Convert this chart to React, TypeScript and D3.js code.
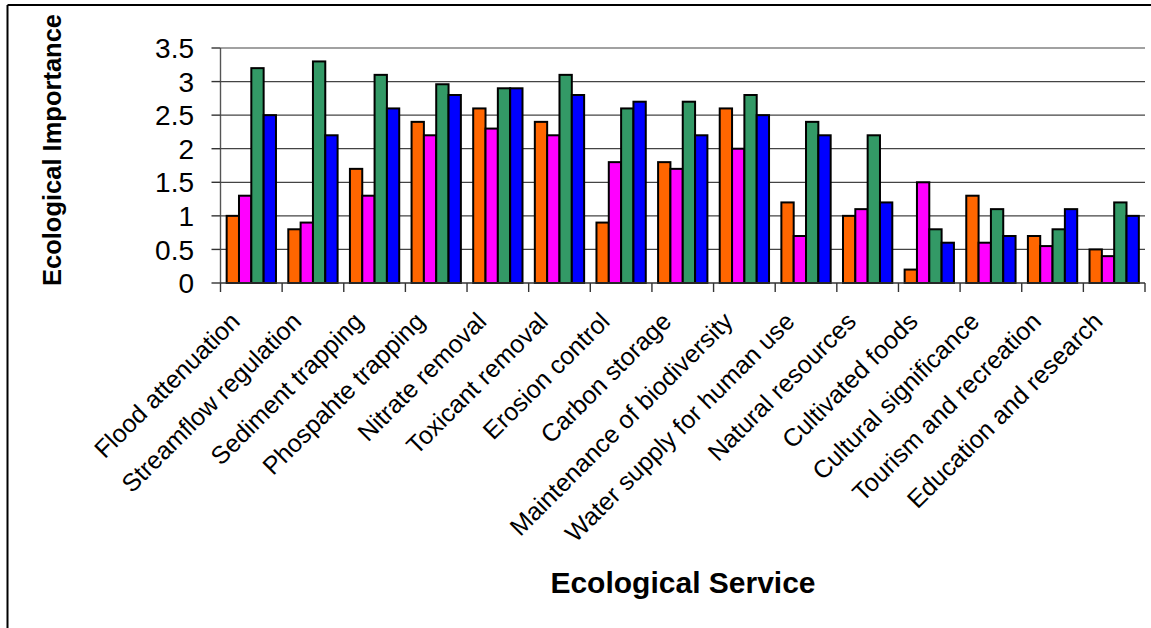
import React from "react";
import * as d3 from "d3";

const categories = [
  "Flood attenuation",
  "Streamflow regulation",
  "Sediment trapping",
  "Phospahte trapping",
  "Nitrate removal",
  "Toxicant removal",
  "Erosion control",
  "Carbon storage",
  "Maintenance of biodiversity",
  "Water supply for human use",
  "Natural resources",
  "Cultivated foods",
  "Cultural significance",
  "Tourism and recreation",
  "Education and research",
];

const seriesOrange = [1.0, 0.8, 1.7, 2.4, 2.6, 2.4, 0.9, 1.8, 2.6, 1.2, 1.0, 0.2, 1.3, 0.7, 0.5];
const seriesPink = [1.3, 0.9, 1.3, 2.2, 2.3, 2.2, 1.8, 1.7, 2.0, 0.7, 1.1, 1.5, 0.6, 0.55, 0.4];
const seriesGreen = [3.2, 3.3, 3.1, 2.96, 2.9, 3.1, 2.6, 2.7, 2.8, 2.4, 2.2, 0.8, 1.1, 0.8, 1.2];
const seriesBlue = [2.5, 2.2, 2.6, 2.8, 2.9, 2.8, 2.7, 2.2, 2.5, 2.2, 1.2, 0.6, 0.7, 1.1, 1.0];

const yTicks = [0, 0.5, 1, 1.5, 2, 2.5, 3, 3.5];
const yTickLabels = ["0", "0.5", "1", "1.5", "2", "2.5", "3", "3.5"];

const seriesList = [seriesOrange, seriesPink, seriesGreen, seriesBlue];
const colors = ["#FF6600", "#FF00FF", "#339966", "#0000FF"];

const W = 1151;
const H = 628;
const plotLeft = 220.5;
const plotRight = 1145;
const plotTop = 48;
const plotBottom = 283;

export default function App() {
  const x = d3.scaleBand<string>().domain(categories).range([plotLeft, plotRight]).padding(0);
  const y = d3.scaleLinear().domain([0, 3.5]).range([plotBottom, plotTop]);
  const bw = x.bandwidth();
  const inner = d3
    .scaleBand<number>()
    .domain([0, 1, 2, 3])
    .range([bw * 0.1, bw * 0.9])
    .padding(0);

  const font = "'Liberation Sans', Arial, sans-serif";
  const boundaries = d3.range(categories.length + 1).map((i) => plotLeft + i * bw);

  return (
    <svg
      width={W}
      height={H}
      style={{ position: "absolute", left: 0, top: 0, background: "#fff" }}
    >
      <rect x={0} y={0} width={W} height={H} fill="#fff" />
      {/* outer frame */}
      <line x1={7.5} y1={5} x2={W} y2={5} stroke="#000" strokeWidth={2} />
      <line x1={7.5} y1={5} x2={7.5} y2={H} stroke="#000" strokeWidth={2} />

      {/* gridlines */}
      {yTicks.map((t) =>
        t === 0 ? null : (
          <line
            key={"g" + t}
            x1={plotLeft}
            x2={plotRight}
            y1={y(t)}
            y2={y(t)}
            stroke="#444"
            strokeWidth={1.2}
          />
        )
      )}

      {/* bars */}
      {categories.map((c, i) =>
        seriesList.map((s, k) => (
          <rect
            key={c + k}
            x={(x(c) as number) + (inner(k) as number)}
            y={y(s[i])}
            width={inner.bandwidth()}
            height={plotBottom - y(s[i])}
            fill={colors[k]}
            stroke="#000"
            strokeWidth={2}
          />
        ))
      )}

      {/* y axis */}
      <line x1={plotLeft} x2={plotLeft} y1={plotTop} y2={plotBottom} stroke="#555" strokeWidth={1.4} />
      {yTicks.map((t, i) => (
        <g key={"yt" + t}>
          <line x1={plotLeft - 9} x2={plotLeft} y1={y(t)} y2={y(t)} stroke="#333" strokeWidth={1.4} />
          <text
            x={194}
            y={y(t)}
            dy="0.36em"
            textAnchor="end"
            fontFamily={font}
            fontSize={28}
            fill="#000"
          >
            {yTickLabels[i]}
          </text>
        </g>
      ))}

      {/* x axis */}
      <line x1={plotLeft} x2={plotRight} y1={plotBottom} y2={plotBottom} stroke="#333" strokeWidth={1.4} />
      {boundaries.map((bx, i) => (
        <line key={"xt" + i} x1={bx} x2={bx} y1={plotBottom} y2={plotBottom + 9} stroke="#333" strokeWidth={1.4} />
      ))}

      {/* category labels */}
      {categories.map((c) => {
        const cx = (x(c) as number) + bw / 2 - 10;
        const cy = 323;
        return (
          <text
            key={"cl" + c}
            transform={`translate(${cx},${cy}) rotate(-45)`}
            textAnchor="end"
            fontFamily={font}
            fontSize={25}
            fill="#000"
          >
            {c}
          </text>
        );
      })}

      {/* axis titles */}
      <text
        transform={`translate(61,150) rotate(-90)`}
        textAnchor="middle"
        fontFamily={font}
        fontSize={25.5}
        fontWeight="bold"
        fill="#000"
      >
        Ecological Importance
      </text>
      <text
        x={683}
        y={593}
        textAnchor="middle"
        fontFamily={font}
        fontSize={30}
        fontWeight="bold"
        fill="#000"
      >
        Ecological Service
      </text>
    </svg>
  );
}
